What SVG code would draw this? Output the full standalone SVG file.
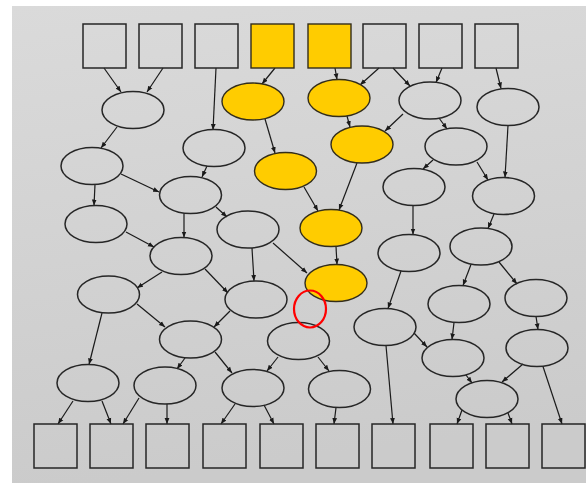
<svg xmlns="http://www.w3.org/2000/svg" width="586" height="483" viewBox="0 0 586 483">
<defs>
<linearGradient id="bg" x1="0" y1="0" x2="0.15" y2="1">
<stop offset="0" stop-color="#dadada"/>
<stop offset="1" stop-color="#cbcbcb"/>
</linearGradient>
<marker id="ah" viewBox="0 0 6 6" refX="6" refY="3" markerWidth="6" markerHeight="6" markerUnits="userSpaceOnUse" orient="auto">
<path d="M0,0.6 L6,3 L0,5.4 z" fill="#1a1a1a"/>
</marker>
</defs>
<style>
.n{fill:none;stroke:#262626;stroke-width:1.5}
.y{fill:#ffcc00;stroke:#332d1a;stroke-width:1.4}
.e line{stroke:#1a1a1a;stroke-width:1.2;marker-end:url(#ah)}
</style>
<rect x="12" y="6" width="574" height="477" fill="url(#bg)"/>
<g id="connectors" class="e">
<line x1="104" y1="68" x2="121" y2="92"/>
<line x1="163" y1="68" x2="147" y2="92"/>
<line x1="216" y1="68" x2="213" y2="130"/>
<line x1="275" y1="68" x2="262" y2="84"/>
<line x1="335" y1="68" x2="337" y2="79.5"/>
<line x1="379" y1="68" x2="360" y2="85"/>
<line x1="393" y1="68" x2="410" y2="86"/>
<line x1="442" y1="68" x2="436" y2="82.5"/>
<line x1="496" y1="68" x2="501" y2="88.5"/>
<line x1="117" y1="127" x2="101" y2="148"/>
<line x1="265" y1="119" x2="275" y2="153"/>
<line x1="207" y1="166" x2="202" y2="177"/>
<line x1="347" y1="116" x2="350" y2="127"/>
<line x1="403" y1="114" x2="385" y2="131"/>
<line x1="439" y1="118" x2="447" y2="129"/>
<line x1="508" y1="125.5" x2="505" y2="177.5"/>
<line x1="433" y1="160" x2="423" y2="169"/>
<line x1="477" y1="162" x2="488" y2="180"/>
<line x1="357" y1="163" x2="339" y2="210"/>
<line x1="304" y1="187" x2="318" y2="211"/>
<line x1="121" y1="174" x2="159" y2="192"/>
<line x1="95" y1="184.5" x2="94" y2="205.5"/>
<line x1="184" y1="213.5" x2="184" y2="237.5"/>
<line x1="216" y1="207" x2="227" y2="217"/>
<line x1="126" y1="232" x2="154" y2="247"/>
<line x1="162" y1="272" x2="137" y2="288"/>
<line x1="205" y1="269" x2="228" y2="293"/>
<line x1="252" y1="248" x2="254" y2="281"/>
<line x1="273" y1="243" x2="307" y2="273"/>
<line x1="336" y1="246.5" x2="337" y2="264.5"/>
<line x1="413" y1="205.5" x2="413" y2="234.5"/>
<line x1="494" y1="214" x2="488" y2="228.5"/>
<line x1="471" y1="264.5" x2="463" y2="285.5"/>
<line x1="499" y1="262" x2="517" y2="284"/>
<line x1="401" y1="271" x2="388" y2="308.5"/>
<line x1="102" y1="313" x2="89" y2="364.5"/>
<line x1="137" y1="304" x2="165" y2="327"/>
<line x1="230" y1="311" x2="214" y2="327"/>
<line x1="185" y1="358" x2="177" y2="369"/>
<line x1="215" y1="352" x2="232" y2="373"/>
<line x1="278" y1="357" x2="267" y2="371"/>
<line x1="318" y1="357" x2="329" y2="371"/>
<line x1="73" y1="401" x2="58" y2="424"/>
<line x1="102" y1="401" x2="111" y2="424"/>
<line x1="139" y1="398" x2="123" y2="424"/>
<line x1="167" y1="404" x2="167" y2="424"/>
<line x1="235" y1="404" x2="221" y2="424"/>
<line x1="264" y1="405" x2="274" y2="424"/>
<line x1="336" y1="407.5" x2="334" y2="424"/>
<line x1="386" y1="345.5" x2="393" y2="424"/>
<line x1="414" y1="333" x2="427" y2="347"/>
<line x1="454" y1="322.5" x2="452" y2="339.5"/>
<line x1="536" y1="316.5" x2="538" y2="329.5"/>
<line x1="466" y1="375" x2="472" y2="383"/>
<line x1="523" y1="364" x2="502" y2="382"/>
<line x1="543" y1="366.5" x2="562" y2="424"/>
<line x1="462" y1="410" x2="457" y2="424"/>
<line x1="508" y1="413" x2="512" y2="424"/>
</g>
<g id="t1"><rect class="n" x="83" y="24" width="43" height="44"/></g>
<g id="t2"><rect class="n" x="139" y="24" width="43" height="44"/></g>
<g id="t3"><rect class="n" x="195" y="24" width="43" height="44"/></g>
<g id="t4"><rect class="y" x="251" y="24" width="43" height="44"/></g>
<g id="t5"><rect class="y" x="308" y="24" width="43" height="44"/></g>
<g id="t6"><rect class="n" x="363" y="24" width="43" height="44"/></g>
<g id="t7"><rect class="n" x="419" y="24" width="43" height="44"/></g>
<g id="t8"><rect class="n" x="475" y="24" width="43" height="44"/></g>
<g id="b1"><rect class="n" x="34" y="424" width="43" height="44"/></g>
<g id="b2"><rect class="n" x="90" y="424" width="43" height="44"/></g>
<g id="b3"><rect class="n" x="146" y="424" width="43" height="44"/></g>
<g id="b4"><rect class="n" x="203" y="424" width="43" height="44"/></g>
<g id="b5"><rect class="n" x="260" y="424" width="43" height="44"/></g>
<g id="b6"><rect class="n" x="316" y="424" width="43" height="44"/></g>
<g id="b7"><rect class="n" x="372" y="424" width="43" height="44"/></g>
<g id="b8"><rect class="n" x="430" y="424" width="43" height="44"/></g>
<g id="b9"><rect class="n" x="486" y="424" width="43" height="44"/></g>
<g id="b10"><rect class="n" x="542" y="424" width="43" height="44"/></g>
<g id="A"><ellipse class="n" cx="133" cy="110" rx="31" ry="18.5"/></g>
<g id="B"><ellipse class="n" cx="214" cy="148" rx="31" ry="18.5"/></g>
<g id="C"><ellipse class="n" cx="92" cy="166" rx="31" ry="18.5"/></g>
<g id="G"><ellipse class="n" cx="190.5" cy="195" rx="31" ry="18.5"/></g>
<g id="H"><ellipse class="n" cx="96" cy="224" rx="31" ry="18.5"/></g>
<g id="I"><ellipse class="n" cx="248" cy="229.5" rx="31" ry="18.5"/></g>
<g id="J"><ellipse class="n" cx="181" cy="256" rx="31" ry="18.5"/></g>
<g id="K"><ellipse class="n" cx="108.5" cy="294.5" rx="31" ry="18.5"/></g>
<g id="L"><ellipse class="n" cx="256" cy="299.5" rx="31" ry="18.5"/></g>
<g id="T"><ellipse class="n" cx="190.5" cy="339.5" rx="31" ry="18.5"/></g>
<g id="V"><ellipse class="n" cx="88" cy="383" rx="31" ry="18.5"/></g>
<g id="W"><ellipse class="n" cx="165" cy="385.5" rx="31" ry="18.5"/></g>
<g id="X"><ellipse class="n" cx="253" cy="388" rx="31" ry="18.5"/></g>
<g id="U"><ellipse class="n" cx="298.5" cy="341" rx="31" ry="18.5"/></g>
<g id="Y"><ellipse class="n" cx="339.5" cy="389" rx="31" ry="18.5"/></g>
<g id="Y1"><ellipse class="y" cx="253" cy="101.5" rx="31" ry="18.5"/></g>
<g id="Y2"><ellipse class="y" cx="339" cy="98" rx="31" ry="18.5"/></g>
<g id="Y3"><ellipse class="y" cx="362" cy="144.5" rx="31" ry="18.5"/></g>
<g id="Y4"><ellipse class="y" cx="285.5" cy="171" rx="31" ry="18.5"/></g>
<g id="Y5"><ellipse class="y" cx="331" cy="228" rx="31" ry="18.5"/></g>
<g id="Y6"><ellipse class="y" cx="336" cy="283" rx="31" ry="18.5"/></g>
<g id="D"><ellipse class="n" cx="430" cy="100.5" rx="31" ry="18.5"/></g>
<g id="E"><ellipse class="n" cx="508" cy="107" rx="31" ry="18.5"/></g>
<g id="F"><ellipse class="n" cx="456" cy="146.5" rx="31" ry="18.5"/></g>
<g id="M"><ellipse class="n" cx="414" cy="187" rx="31" ry="18.5"/></g>
<g id="N"><ellipse class="n" cx="503.5" cy="196" rx="31" ry="18.5"/></g>
<g id="O"><ellipse class="n" cx="409" cy="253" rx="31" ry="18.5"/></g>
<g id="P"><ellipse class="n" cx="481" cy="246.5" rx="31" ry="18.5"/></g>
<g id="Q"><ellipse class="n" cx="459" cy="304" rx="31" ry="18.5"/></g>
<g id="R"><ellipse class="n" cx="536" cy="298" rx="31" ry="18.5"/></g>
<g id="S"><ellipse class="n" cx="385" cy="327" rx="31" ry="18.5"/></g>
<g id="Z"><ellipse class="n" cx="453" cy="358" rx="31" ry="18.5"/></g>
<g id="AA"><ellipse class="n" cx="537" cy="348" rx="31" ry="18.5"/></g>
<g id="BB"><ellipse class="n" cx="487" cy="399" rx="31" ry="18.5"/></g>
<g id="highlight"><ellipse cx="310" cy="309" rx="16" ry="18.5" fill="none" stroke="#ff0000" stroke-width="2.2"/></g>
</svg>
